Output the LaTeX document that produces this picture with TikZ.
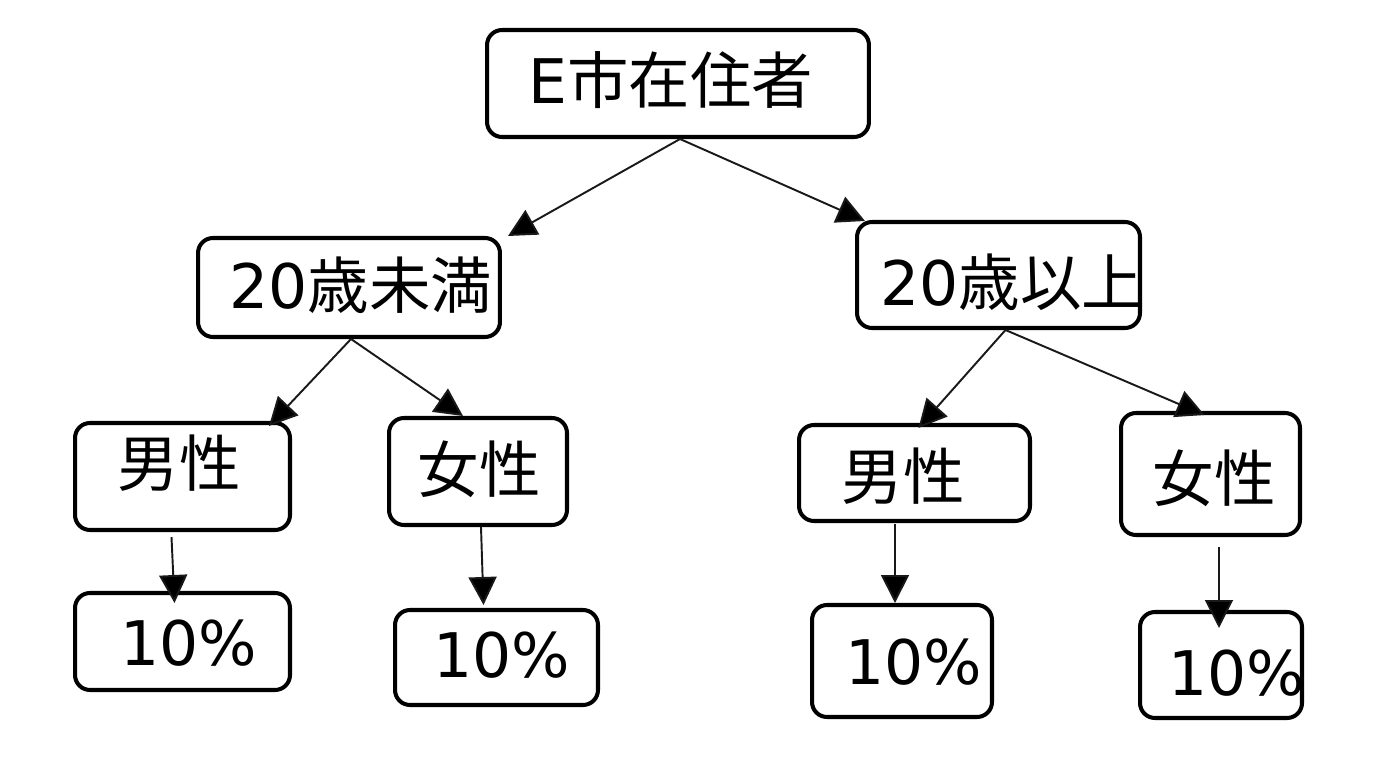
\documentclass[tikz,border=0pt]{standalone}
\usepackage{fontspec}
\setmainfont{DejaVu Sans}
\newfontfamily\cjk{Noto Sans CJK JP}
\usetikzlibrary{arrows.meta,calc}
\begin{document}
\begin{tikzpicture}[x=0.02cm,y=-0.02cm,
  box/.style 2 args={draw=black,line width=2.3pt,rounded corners=0.3cm,inner sep=0pt,minimum width=#1,minimum height=#2},
  lbl/.style={inner sep=0pt,font=\fontsize{35}{40}\selectfont},
  arr/.style={draw=black!90,line width=1.1pt,-{Triangle[length=0.56cm,width=0.56cm,fill=black]}}]
\useasboundingbox (0,0) rectangle (1390,757);
% boxes
\node[box={7.64cm}{2.14cm}] (root) at (678,83.5) {};
\node[box={6.04cm}{1.98cm}] (u20) at (349,287.5) {};
\node[box={5.66cm}{2.12cm}] (o20) at (998.5,275) {};
\node[box={4.30cm}{2.14cm}] (mL) at (182.5,476.5) {};
\node[box={3.56cm}{2.14cm}] (fL) at (478,471.5) {};
\node[box={4.62cm}{1.92cm}] (mR) at (914.5,473) {};
\node[box={3.58cm}{2.44cm}] (fR) at (1210.5,474) {};
\node[box={4.30cm}{1.94cm}] (pL1) at (182.5,641.5) {};
\node[box={4.06cm}{1.90cm}] (pL2) at (496.5,657.5) {};
\node[box={3.60cm}{2.24cm}] (pR1) at (902,661) {};
\node[box={3.24cm}{2.12cm}] (pR2) at (1221,665) {};
% texts
\node[lbl] (troot) at (671,80) {E{\cjk 市在住者}};
\node[lbl] (tu20) at (361,285) {20{\cjk 歳未満}};
\node[lbl] (to20) at (1012,282) {20{\cjk 歳以上}};
\node[lbl] (tmL) at (179,463) {\cjk 男性};
\node[lbl] (tfL) at (479,469) {\cjk 女性};
\node[lbl] (tmR) at (903,476) {\cjk 男性};
\node[lbl] (tfR) at (1214,478) {\cjk 女性};
\node[lbl] (tpL1) at (189,643) {10\%};
\node[lbl] (tpL2) at (502,655) {10\%};
\node[lbl] (tpR1) at (914,662) {10\%};
\node[lbl] (tpR2) at (1237,673) {10\%};
% connectors
\draw[arr] ($(root.south)+(2,0)$) -- ($(u20.north east)+(6,0)$);
\draw[arr] ($(root.south)+(2,0)$) -- ($(o20.north west)+(10,1)$);
\draw[arr] ($(u20.south)+(2,0)$) -- ($(mL.north east)+(-23,5)$);
\draw[arr] ($(u20.south)+(2,0)$) -- ($(fL.north)+(-15,0)$);
\draw[arr] ($(o20.south)+(7,0)$) -- ($(mR.north)+(4,5)$);
\draw[arr] ($(o20.south)+(7,0)$) -- ($(fR.north)+(-6,4)$);
\draw[arr] ($(mL.south)+(-11,5)$) -- ($(pL1.north)+(-8,12)$);
\draw[arr] ($(fL.south)+(3,0)$) -- ($(pL2.north)+(-13,-3)$);
\draw[arr] ($(mR.south)+(-19.5,1)$) -- ($(pR1.north)+(-7,0)$);
\draw[arr] ($(fR.south)+(8.5,10)$) -- ($(pR2.north)+(-2,18)$);
\end{tikzpicture}
\end{document}
